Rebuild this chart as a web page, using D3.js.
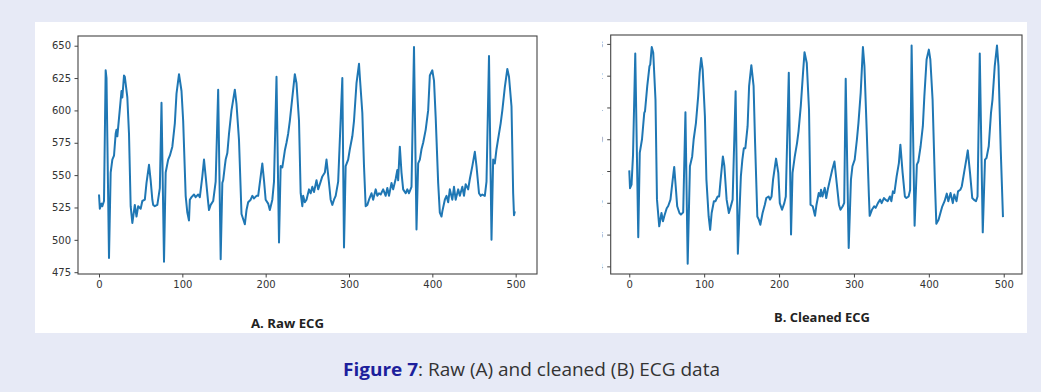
<!DOCTYPE html>
<html>
<head>
<meta charset="utf-8">
<script src="https://cdn.jsdelivr.net/npm/d3@7"></script>
<style>
  body { margin: 0; background: #e7eaf6; }
  svg { display: block; }
  .tick text { font-family: "DejaVu Sans", sans-serif; font-size: 10px; fill: #333; }
  .tick line, .domain { stroke: #444; }
</style>
</head>
<body>
<script>
// raw ECG (panel A) : sample index / value
const rawIdx = [0,1,3,4,6,8,9,12,14,16,18,20,21,22,26,27,28,30,31,34,36,38,40,43,45,47,50,52,55,57,60,62,64,65,67,70,73,75,78,80,83,85,88,91,93,96,99,101,104,106,108,109,111,114,116,119,121,124,126,128,131,132,134,137,140,143,146,148,149,151,152,154,156,159,163,165,168,171,172,175,177,179,182,184,186,189,191,193,196,198,200,203,205,208,210,213,216,218,220,223,225,227,229,232,235,237,240,242,244,245,247,249,252,254,256,258,261,263,266,268,271,273,276,278,280,282,284,287,292,294,296,299,301,304,306,309,312,313,316,318,320,322,324,327,329,332,334,336,338,341,344,346,348,351,353,356,358,359,361,363,365,368,370,372,375,378,381,383,385,387,389,392,395,397,400,402,404,407,409,411,412,415,417,419,421,424,426,428,431,433,436,438,440,443,445,448,451,453,456,458,460,463,465,468,471,473,475,477,480,482,484,487,490,492,495,497,498,499];
const rawVal = [535,524,528,526,530,631,625,486,552,562,565,582,585,580,608,615,610,627,626,610,582,526,513,527,518,526,524,530,531,544,558,546,531,527,526,527,540,606,483,552,562,565,572,590,613,628,615,592,534,521,515,531,533,535,533,535,533,549,562,549,529,523,527,530,545,616,485,544,546,557,562,567,582,600,616,605,577,520,518,512,523,529,531,534,532,534,534,544,559,546,531,528,523,531,545,626,498,557,556,569,575,582,592,610,628,621,592,536,526,534,529,531,539,536,541,537,546,539,545,549,552,562,544,531,527,531,534,545,625,494,557,562,570,580,592,621,636,626,598,557,526,527,531,536,531,539,534,536,535,539,534,540,534,544,539,547,554,546,572,552,539,536,539,536,541,649,508,559,562,570,575,585,600,627,631,623,595,544,521,518,522,531,534,529,539,531,541,531,539,534,541,534,543,539,547,557,568,557,536,534,535,534,545,642,500,562,559,570,582,590,600,618,632,626,603,536,519,522];

// cleaned ECG (panel B)
const cleanIdx = [0,1,3,5,8,12,14,17,20,21,24,27,28,30,32,35,37,40,43,45,47,50,52,55,58,60,62,64,67,69,72,75,78,81,84,86,89,92,94,96,98,101,103,106,108,110,113,115,118,120,122,125,127,130,133,135,138,142,145,149,151,153,155,158,160,163,166,168,171,173,175,178,181,183,186,188,190,192,196,199,201,204,207,209,213,216,218,221,224,226,229,232,234,237,240,242,245,248,250,253,255,256,258,261,263,265,268,271,274,277,280,282,285,287,289,293,296,298,301,304,306,309,312,314,317,320,321,324,327,329,332,335,337,340,342,345,348,350,352,354,357,360,362,365,368,370,373,375,377,381,384,386,389,392,394,397,400,402,405,408,410,413,416,418,421,424,426,429,432,434,437,439,442,444,447,450,452,455,458,460,463,465,468,472,475,477,480,483,485,488,491,493,496,499];
const cleanVal = [-0.98,-1.54,-1.43,-0.5,2.70,-3.08,-0.43,0.0,0.83,0.88,1.67,2.3,2.35,2.9,2.72,1.25,-1.9,-2.74,-2.32,-2.58,-2.4,-2.17,-2.1,-1.9,-1.27,-0.87,-1.48,-2.11,-2.32,-2.37,-2.3,0.85,-3.92,-0.85,-0.54,0.0,0.51,1.35,2.09,2.56,2.19,0.72,-1.27,-2.43,-2.85,-2.32,-1.95,-1.95,-1.8,-1.8,-1.27,-0.54,-0.85,-1.9,-2.32,-2.16,-1.9,1.51,-3.6,-1.17,-0.64,-0.28,-0.28,0.41,1.67,2.33,1.67,-0.12,-2.43,-2.53,-2.69,-2.32,-2.06,-1.85,-1.8,-1.9,-1.8,-1.27,-0.61,-1.06,-2.01,-2.22,-2.01,-1.8,2.09,-3.0,-1.06,-0.54,-0.12,0.25,1.04,2.09,2.74,2.4,0.93,-2.06,-2.11,-2.41,-2.06,-1.69,-1.8,-1.59,-1.8,-1.53,-1.85,-1.59,-1.27,-0.96,-0.7,-1.38,-2.06,-2.22,-2.11,-2.0,1.9,-3.42,-1.27,-0.85,-0.64,0.0,0.51,1.46,2.9,2.3,0.3,-1.8,-2.41,-2.22,-2.11,-2.16,-2.01,-1.9,-2.01,-1.85,-1.9,-1.95,-1.8,-1.95,-1.64,-1.69,-1.17,-0.75,-0.17,-1.06,-1.8,-1.85,-1.8,-1.6,2.95,-2.72,-0.8,-0.7,-0.22,0.41,1.35,2.51,2.82,2.51,1.25,-1.27,-2.66,-2.53,-2.27,-2.11,-1.95,-1.71,-1.95,-1.69,-2.01,-1.74,-1.95,-1.64,-1.59,-1.48,-1.06,-0.64,-0.35,-1.06,-1.85,-1.9,-1.95,-1.8,2.7,-2.93,-0.64,-0.59,-0.22,0.83,1.25,2.3,2.95,2.3,-0.33,-2.45];

const xTicks = [0, 100, 200, 300, 400, 500];
const rawTicks = [475, 500, 525, 550, 575, 600, 625, 650];
const cleanTicks = [-4, -3, -2, -1, 0, 1, 2, 3];
const panelLabels = ['A. Raw ECG', 'B. Cleaned ECG'];

const W = 1041, H = 392;
const svg = d3.select('body').append('svg').attr('width', W).attr('height', H);

// white figure panel
svg.append('rect').attr('x', 35).attr('y', 22).attr('width', 992).attr('height', 311).attr('fill', '#fff');

// the B panel's y labels are cut off in the figure, only a sliver shows
svg.append('defs').append('clipPath').attr('id', 'cutLabel')
  .append('rect').attr('x', -8.6).attr('y', -3).attr('width', 1.2).attr('height', 6);

function drawPanel(box, xDom, yDom, idx, val, yTicks, hideLabels) {
  const x = d3.scaleLinear().domain(xDom).range([box.left, box.right]);
  const y = d3.scaleLinear().domain(yDom).range([box.bottom, box.top]);

  const line = d3.line().x(d => x(d[0])).y(d => y(d[1]));
  svg.append('path')
    .datum(d3.zip(idx, val))
    .attr('d', line)
    .attr('fill', 'none')
    .attr('stroke', '#1f77b4')
    .attr('stroke-width', 2)
    .attr('stroke-linejoin', 'round');

  const gx = svg.append('g')
    .attr('transform', 'translate(0,' + box.bottom + ')')
    .call(d3.axisBottom(x).tickValues(xTicks).tickSize(3.5).tickPadding(3.5));
  gx.select('.domain').remove();

  const gy = svg.append('g')
    .attr('transform', 'translate(' + box.left + ',0)')
    .call(d3.axisLeft(y).tickValues(yTicks).tickSize(3.5).tickPadding(3.5));
  gy.select('.domain').remove();
  if (hideLabels) {
    gy.selectAll('text').attr('clip-path', 'url(#cutLabel)').style('fill', '#999');
  }

  svg.append('rect')
    .attr('x', box.left).attr('y', box.top)
    .attr('width', box.right - box.left).attr('height', box.bottom - box.top)
    .attr('fill', 'none').attr('stroke', '#444').attr('stroke-width', 1.1);
}

drawPanel({left: 78, right: 537, top: 36, bottom: 274}, [-25.2, 525.6], [473.6, 657.5], rawIdx, rawVal, rawTicks, false);
drawPanel({left: 610.7, right: 1022, top: 35, bottom: 274}, [-24.8, 524.4], [-4.24, 3.28], cleanIdx, cleanVal, cleanTicks, true);

// panel titles
const labelPos = [{x: 251, y: 328, w: 73}, {x: 774, y: 322, w: 96}];
panelLabels.forEach((t, i) => {
  svg.append('text')
    .attr('x', labelPos[i].x).attr('y', labelPos[i].y)
    .attr('textLength', labelPos[i].w).attr('lengthAdjust', 'spacingAndGlyphs')
    .style('font-family', '"Open Sans", sans-serif').style('font-weight', 700)
    .style('font-size', '11.5px').style('fill', '#222')
    .text(t);
});

// figure caption
const cap = svg.append('text')
  .attr('x', 343).attr('y', 376)
  .attr('textLength', 377).attr('lengthAdjust', 'spacingAndGlyphs')
  .style('font-family', '"Open Sans", sans-serif').style('font-size', '17.5px').style('fill', '#333');
cap.append('tspan').style('font-weight', 700).style('fill', '#1d1f9c').text('Figure 7');
cap.append('tspan').text(': Raw (A) and cleaned (B) ECG data');
</script>
</body>
</html>
